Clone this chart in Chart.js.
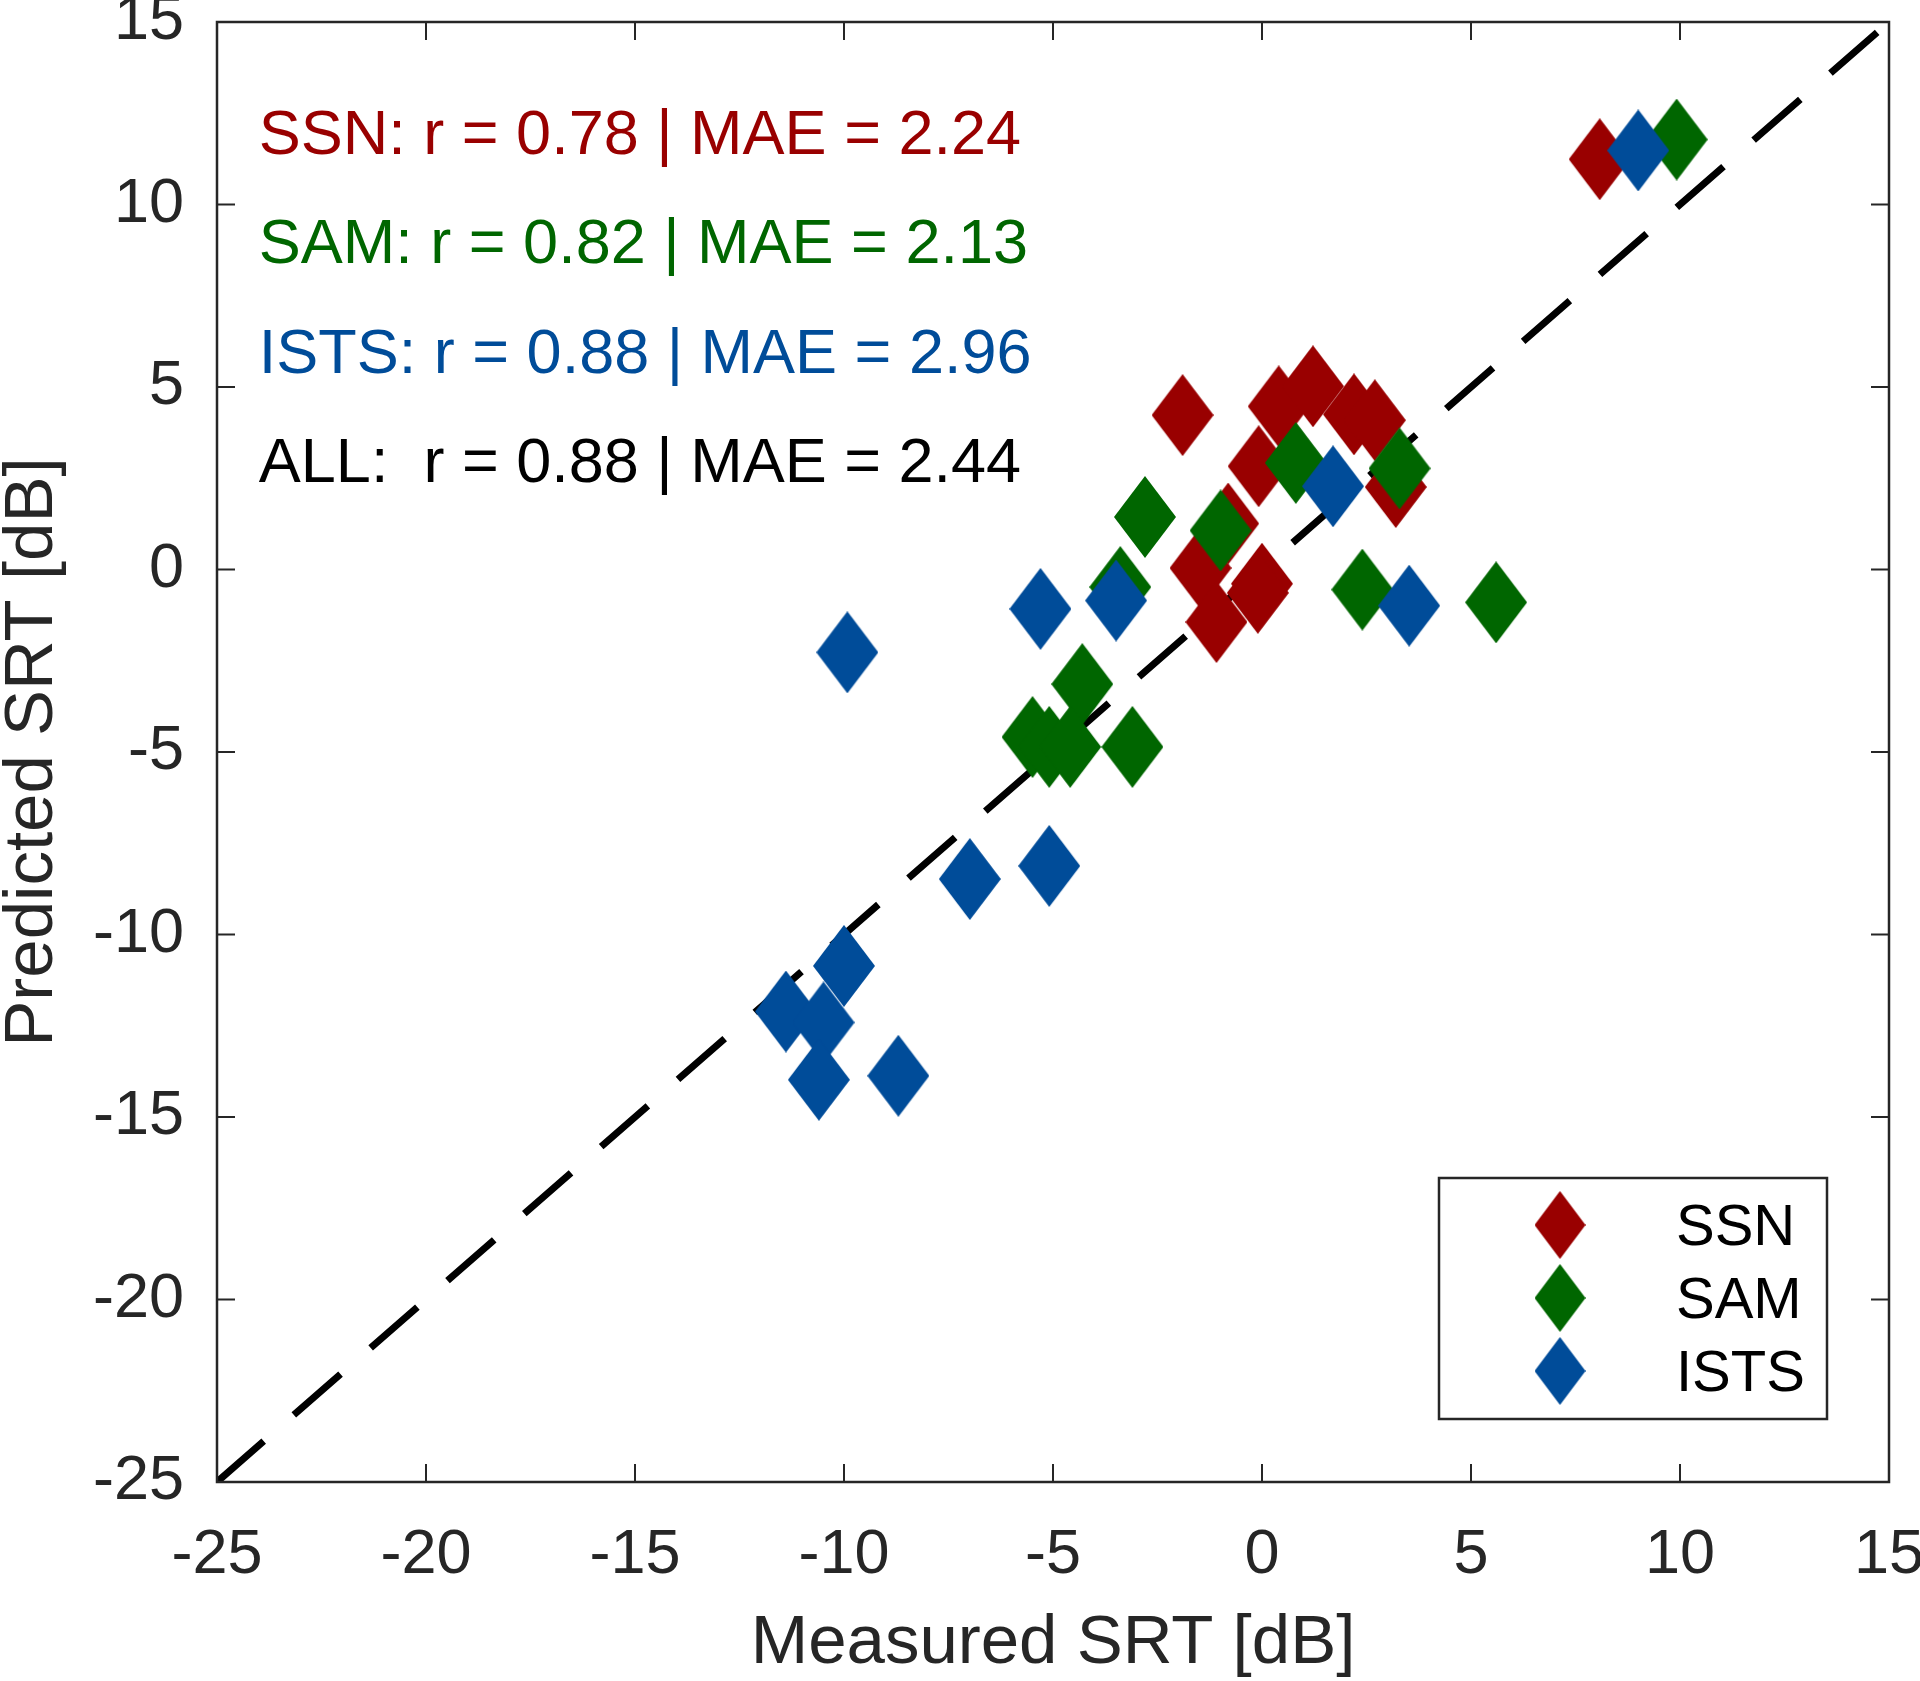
<!DOCTYPE html>
<html>
<head>
<meta charset="utf-8">
<script src="https://cdn.jsdelivr.net/npm/chart.js@4.4.1/dist/chart.umd.min.js"></script>
<style>
  html, body { margin: 0; padding: 0; background: #fff; }
  #wrap { width: 1920px; height: 1681px; }
</style>
</head>
<body>
<div id="wrap"><canvas id="myChart" width="1920" height="1681"></canvas></div>
<script>
// Data: measured vs predicted SRT in dB
var ssnX  = [8.08, -1.9, 0.4, 1.22, 2.2, 2.7, -0.08, 3.2, -0.81, -1.47, -1.09, 0.0, -0.1];
var ssnY  = [11.24, 4.23, 4.47, 5.02, 4.25, 4.09, 2.83, 2.26, 1.26, 0.04, -1.44, -0.39, -0.64];
var samX  = [9.92, 0.81, 3.29, -2.8, -0.99, -3.39, 2.4, 5.6, -4.3, -5.49, -5.09, -4.59, -3.1];
var samY  = [11.78, 2.92, 2.77, 1.44, 1.07, -0.48, -0.55, -0.9, -3.14, -4.59, -4.86, -4.86, -4.86];
var istsX = [9.0, 1.7, -5.3, -3.49, 3.52, -9.92, -6.99, -5.09, -10.0, -11.39, -10.49, -10.6, -8.7];
var istsY = [11.48, 2.28, -1.08, -0.85, -0.99, -2.27, -8.48, -8.12, -10.86, -12.11, -12.41, -13.98, -13.87];

var seriesNames = ['SSN', 'SAM', 'ISTS'];
var seriesColors = ['#990000', '#006600', '#004C99'];
var statLines = [
  'SSN: r = 0.78 | MAE = 2.24',
  'SAM: r = 0.82 | MAE = 2.13',
  'ISTS: r = 0.88 | MAE = 2.96',
  'ALL:  r = 0.88 | MAE = 2.44'
];
var statColors = ['#990000', '#006600', '#004C99', '#000000'];
var statY = [12, 9, 6, 3];
var axisMin = -25, axisMax = 15, axisStep = 5;

var FONT = '"Liberation Sans", Arial, Helvetica, sans-serif';
var AXIS_COLOR = '#262626';

function toPoints(xs, ys) {
  return xs.map(function (x, i) { return { x: x, y: ys[i] }; });
}

// tall diamond marker like MATLAB 'd'
function diamond(color, w, h) {
  var c = document.createElement('canvas');
  c.width = w; c.height = h;
  var g = c.getContext('2d');
  g.fillStyle = color;
  g.beginPath();
  g.moveTo(w / 2, 0);
  g.lineTo(w, h / 2);
  g.lineTo(w / 2, h);
  g.lineTo(0, h / 2);
  g.closePath();
  g.fill();
  return c;
}

var markers = seriesColors.map(function (c) { return diamond(c, 62, 82); });
var legendMarkers = seriesColors.map(function (c) { return diamond(c, 51, 68); });

// box, inward ticks, stat texts and legend
var decorations = {
  id: 'decorations',
  afterDatasetsDraw: function (chart) {
    var ctx = chart.ctx;
    var a = chart.chartArea;
    var xs = chart.scales.x, ys = chart.scales.y;
    var tl = 18;

    ctx.save();
    ctx.strokeStyle = AXIS_COLOR;
    ctx.lineWidth = 2.5;
    ctx.strokeRect(a.left, a.top, a.right - a.left, a.bottom - a.top);
    ctx.lineWidth = 2;
    ctx.beginPath();
    xs.ticks.forEach(function (t) {
      var px = xs.getPixelForValue(t.value);
      ctx.moveTo(px, a.bottom); ctx.lineTo(px, a.bottom - tl);
      ctx.moveTo(px, a.top); ctx.lineTo(px, a.top + tl);
    });
    ys.ticks.forEach(function (t) {
      var py = ys.getPixelForValue(t.value);
      ctx.moveTo(a.left, py); ctx.lineTo(a.left + tl, py);
      ctx.moveTo(a.right, py); ctx.lineTo(a.right - tl, py);
    });
    ctx.stroke();

    // statistics text
    ctx.font = '63px ' + FONT;
    ctx.textAlign = 'left';
    ctx.textBaseline = 'middle';
    statLines.forEach(function (s, i) {
      ctx.fillStyle = statColors[i];
      ctx.fillText(s, xs.getPixelForValue(-24), ys.getPixelForValue(statY[i]) + 5);
    });

    // legend
    var lx = 1439, ly = 1178, lw = 388, lh = 241;
    ctx.fillStyle = '#fff';
    ctx.fillRect(lx, ly, lw, lh);
    ctx.strokeStyle = AXIS_COLOR;
    ctx.lineWidth = 2.5;
    ctx.strokeRect(lx, ly, lw, lh);
    ctx.font = '58px ' + FONT;
    ctx.fillStyle = '#000';
    seriesNames.forEach(function (name, i) {
      var cy = ly + 47 + i * 73;
      var m = legendMarkers[i];
      ctx.drawImage(m, 1560 - m.width / 2, cy - m.height / 2);
      ctx.fillText(name, 1676, cy + 4);
    });
    ctx.restore();
  }
};

var ctx = document.getElementById('myChart').getContext('2d');

var data = {
  datasets: [
    {
      label: 'ISTS',
      data: toPoints(istsX, istsY),
      pointStyle: markers[2],
      backgroundColor: seriesColors[2],
      showLine: false,
      order: 1
    },
    {
      label: 'SAM',
      data: toPoints(samX, samY),
      pointStyle: markers[1],
      backgroundColor: seriesColors[1],
      showLine: false,
      order: 2
    },
    {
      label: 'SSN',
      data: toPoints(ssnX, ssnY),
      pointStyle: markers[0],
      backgroundColor: seriesColors[0],
      showLine: false,
      order: 3
    },
    {
      label: 'identity',
      type: 'line',
      data: [{ x: axisMin, y: axisMin }, { x: axisMax, y: axisMax }],
      borderColor: '#000',
      borderWidth: 7,
      borderDash: [62, 40],
      borderCapStyle: 'butt',
      pointRadius: 0,
      fill: false,
      order: 4
    }
  ]
};

var tickFont = { family: FONT, size: 63 };
var titleFont = { family: FONT, size: 69, lineHeight: 1 };

var options = {
  responsive: false,
  devicePixelRatio: 1,
  animation: false,
  layout: { padding: { top: 22, right: 31, left: 0, bottom: 0 } },
  plugins: {
    legend: { display: false },
    tooltip: { enabled: false }
  },
  scales: {
    x: {
      type: 'linear',
      min: axisMin, max: axisMax,
      grid: { display: false },
      border: { display: false },
      ticks: { stepSize: axisStep, font: tickFont, color: AXIS_COLOR, padding: 28, maxRotation: 0 },
      title: { display: true, text: 'Measured SRT [dB]', font: titleFont, color: AXIS_COLOR, padding: { top: 0, bottom: 3 } },
      afterFit: function (s) { s.height = 199; s.paddingLeft = 0; s.paddingRight = 0; }
    },
    y: {
      type: 'linear',
      min: axisMin, max: axisMax,
      grid: { display: false },
      border: { display: false },
      ticks: { stepSize: axisStep, font: tickFont, color: AXIS_COLOR, padding: 25 },
      title: { display: true, text: 'Predicted SRT [dB]', font: titleFont, color: AXIS_COLOR, padding: { top: -2, bottom: 0 } },
      afterFit: function (s) { s.width = 217; s.paddingTop = 0; s.paddingBottom = 0; }
    }
  }
};

var myChart = new Chart(ctx, {
  type: 'scatter',
  data: data,
  options: options,
  plugins: [decorations]
});
</script>
</body>
</html>
